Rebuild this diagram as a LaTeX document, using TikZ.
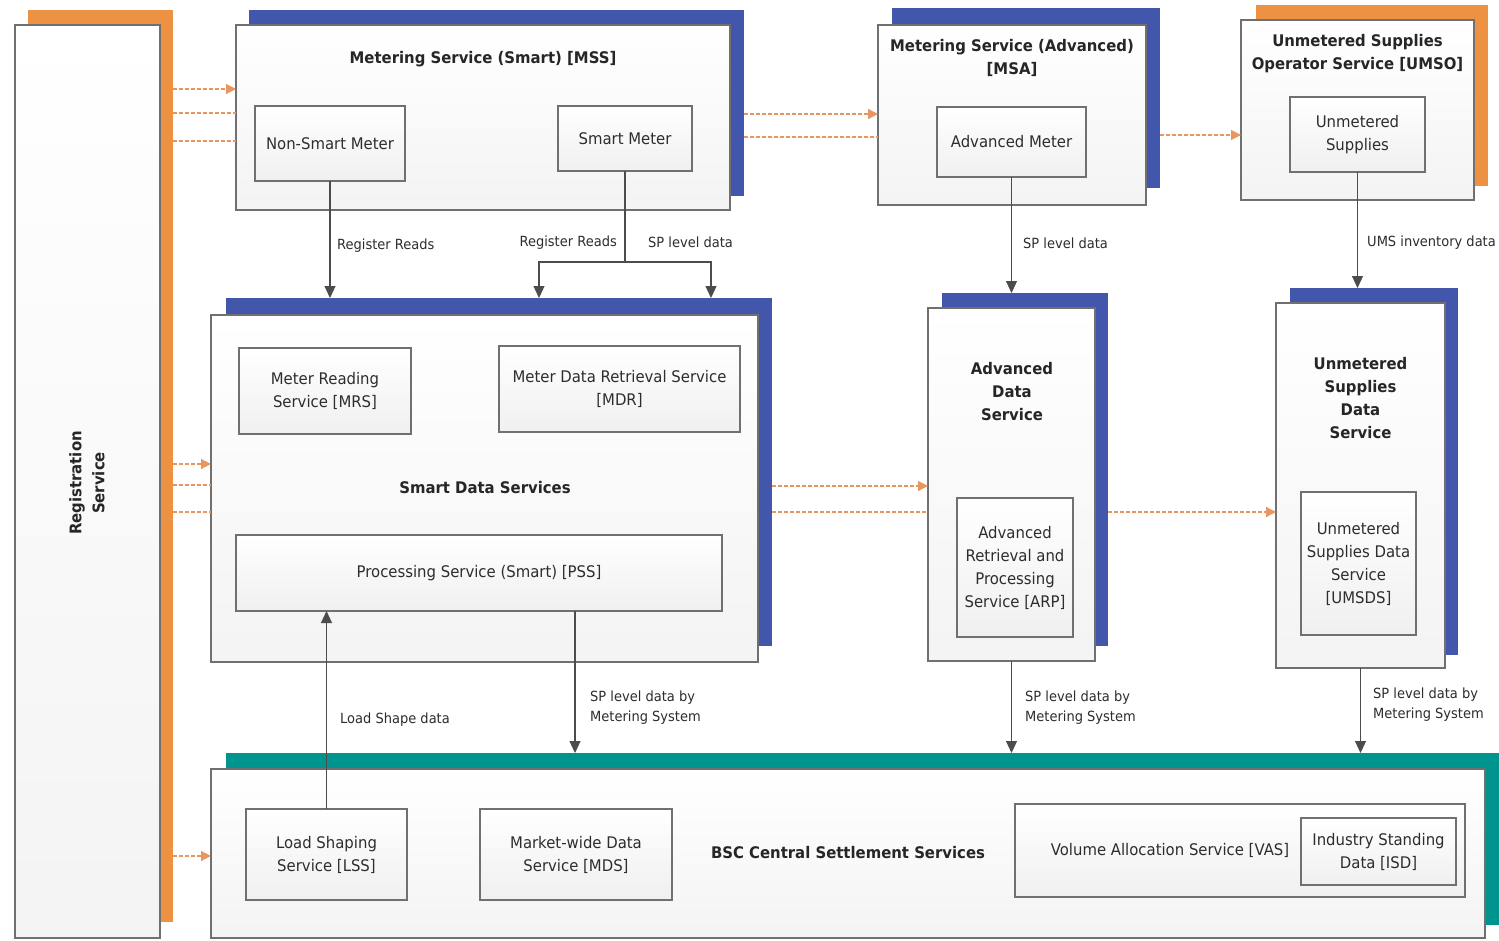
\documentclass[tikz,border=0pt]{standalone}
\usepackage{fontspec}
\setmainfont{DejaVu Sans}[FakeStretch=0.93]
\usetikzlibrary{arrows.meta}
\definecolor{blu}{RGB}{66,86,172}
\definecolor{org}{RGB}{236,146,66}
\definecolor{tea}{RGB}{0,148,143}
\definecolor{bord}{RGB}{112,112,112}
\definecolor{txt}{RGB}{45,45,45}
\definecolor{oline}{RGB}{232,150,95}
\tikzset{
 shad/.style={draw=none, inner sep=0pt, outer sep=0pt},
 outerbox/.style={draw=bord, line width=1.2pt, top color=white, bottom color=gray!9, inner sep=0pt, outer sep=0pt},
 inbox/.style={draw=bord, line width=1.2pt, top color=white, bottom color=gray!12, inner sep=0pt, outer sep=0pt, align=center, text=txt, font=\fontsize{16}{23}\selectfont},
 ttl/.style={font=\bfseries\fontsize{16}{23}\selectfont, align=center, text=black!85},
 lbl/.style={font=\fontsize{14}{20}\selectfont, align=left, text=txt, inner sep=0pt},
 arr/.style={draw=black!70, line width=1.1pt, -{Triangle[width=11pt,length=12pt]}},
 ln/.style={draw=black!70, line width=1.1pt},
 oarr/.style={draw=oline, line width=1.1pt, dash pattern=on 4pt off 2pt, -{Triangle[width=10pt,length=10pt]}},
 oln/.style={draw=oline, line width=1.1pt, dash pattern=on 4pt off 2pt},
}
\newcommand\mybox[7]{\node[#1, minimum width={(#5-#3)*1pt}, minimum height={(#6-#4)*1pt}] (#2) at ({(#3+#5)/2},{(#4+#6)/2}) {#7};}
\begin{document}
\begin{tikzpicture}[x=1pt,y=-1pt]
\useasboundingbox (0,0) rectangle (1499,940);
\fill[white] (0,0) rectangle (1499,940);
% Registration
\mybox{shad,fill=org}{REGs}{28}{10}{173}{922}{}
\mybox{outerbox}{REG}{15}{25}{160}{938}{}
\node[ttl, rotate=90] (REGt) at (87,483) {Registration\\Service};
% MSS
\mybox{shad,fill=blu}{MSSs}{249}{10}{744}{196}{}
\mybox{outerbox}{MSS}{236}{25}{730}{210}{}
\node[ttl] (MSSt) at (483,59) {Metering Service (Smart) [MSS]};
\mybox{inbox}{NSM}{255}{106}{405}{181}{Non-Smart Meter}
\mybox{inbox}{SM}{558}{106}{692}{171}{Smart Meter}
% MSA
\mybox{shad,fill=blu}{MSAs}{892}{8}{1160}{188}{}
\mybox{outerbox}{MSA}{878}{25}{1146}{205}{}
\node[ttl] (MSAt) at (1012,57.5) {Metering Service (Advanced)\\{}[MSA]};
\mybox{inbox}{AM}{937}{107}{1086}{177}{Advanced Meter}
% UMSO
\mybox{shad,fill=org}{UMSOs}{1256}{5}{1488}{186}{}
\mybox{outerbox}{UMSO}{1241}{20}{1474}{200}{}
\node[ttl] (UMSOt) at (1357.5,53.5) {Unmetered Supplies\\Operator Service [UMSO]};
\mybox{inbox}{US}{1290}{97}{1425}{172}{Unmetered\\Supplies}
% SDS
\mybox{shad,fill=blu}{SDSs}{226}{298}{772}{646}{}
\mybox{outerbox}{SDS}{211}{315}{758}{662}{}
\node[ttl] (SDSt) at (485,488) {Smart Data Services};
\mybox{inbox}{MRS}{239}{348}{411}{434}{Meter Reading\\Service [MRS]}
\mybox{inbox}{MDR}{499}{346}{740}{432}{Meter Data Retrieval Service\\{}[MDR]}
\mybox{inbox}{PSS}{236}{535}{722}{611}{Processing Service (Smart) [PSS]}
% ADS
\mybox{shad,fill=blu}{ADSs}{942}{293}{1108}{646}{}
\mybox{outerbox}{ADS}{928}{308}{1095}{661}{}
\node[ttl] (ADSt) at (1012,391.5) {Advanced\\Data\\Service};
\mybox{inbox}{ARP}{957}{498}{1073}{637}{Advanced\\Retrieval and\\Processing\\Service [ARP]}
% UDS
\mybox{shad,fill=blu}{UDSs}{1290}{288}{1458}{655}{}
\mybox{outerbox}{UDS}{1276}{303}{1445}{668}{}
\node[ttl] (UDSt) at (1360.5,398) {Unmetered\\Supplies\\Data\\Service};
\mybox{inbox}{UMSDS}{1301}{492}{1416}{635}{Unmetered\\Supplies Data\\Service\\{}[UMSDS]}
% BSC
\mybox{shad,fill=tea}{BSCs}{226}{753}{1499}{925}{}
\mybox{outerbox}{BSC}{211}{769}{1485}{938}{}
\node[ttl] (BSCt) at (848,853) {BSC Central Settlement Services};
\mybox{inbox}{LSS}{246}{809}{407}{900}{Load Shaping\\Service [LSS]}
\mybox{inbox}{MDS}{480}{809}{672}{900}{Market-wide Data\\Service [MDS]}
\mybox{inbox}{VAS}{1015}{804}{1465}{897}{}
\node[font=\fontsize{16}{23}\selectfont, text=txt] (VASt) at (1170,850) {Volume Allocation Service [VAS]};
\mybox{inbox}{ISD}{1301}{818}{1456}{885}{Industry Standing\\Data [ISD]}
% orange connectors
\draw[oarr] (REGs.east |- 0,89) -- (MSS.west |- 0,89);
\draw[oln] (REGs.east |- 0,113) -- (MSS.west |- 0,113);
\draw[oln] (REGs.east |- 0,141) -- (MSS.west |- 0,141);
\draw[oarr] (MSSs.east |- 0,114) -- (MSA.west |- 0,114);
\draw[oln] (MSSs.east |- 0,137) -- (MSA.west |- 0,137);
\draw[oarr] (MSAs.east |- 0,135) -- (UMSO.west |- 0,135);
\draw[oarr] (REGs.east |- 0,464) -- (SDS.west |- 0,464);
\draw[oln] (REGs.east |- 0,485) -- (SDS.west |- 0,485);
\draw[oln] (REGs.east |- 0,512) -- (SDS.west |- 0,512);
\draw[oarr] (SDSs.east |- 0,486) -- (ADS.west |- 0,486);
\draw[oln] (SDSs.east |- 0,512) -- (ADS.west |- 0,512);
\draw[oarr] (ADSs.east |- 0,512) -- (UDS.west |- 0,512);
\draw[oarr] (REGs.east |- 0,856) -- (BSC.west |- 0,856);
% gray connectors
\draw[arr] (NSM.south) -- (NSM.south |- SDSs.north);
\coordinate (SMj) at (625,262);
\coordinate (RRt) at (539,298);
\coordinate (SPt) at (711,298);
\draw[ln] (SM.south) -- (SMj);
\draw[arr] (SMj) -| (RRt);
\draw[arr] (SMj) -| (SPt);
\draw[arr] (AM.south) -- (AM.south |- ADSs.north);
\draw[arr] (US.south) -- (US.south |- UDSs.north);
\draw[arr] ([xshift=96pt]PSS.south) -- ([xshift=96pt]PSS.south |- BSCs.north);
\draw[arr] (LSS.north) -- (LSS.north |- PSS.south);
\draw[arr] (ADS.south) -- (ADS.south |- BSCs.north);
\draw[arr] (UDS.south) -- (UDS.south |- BSCs.north);
% labels
\node[lbl, anchor=west] (l1) at (337,246) {Register Reads};
\node[lbl, anchor=east] (l2) at (617,243) {Register Reads};
\node[lbl, anchor=west] (l3) at (648,242) {SP level data};
\node[lbl, anchor=west] (l4) at (1023,243) {SP level data};
\node[lbl, anchor=east] (l5) at (1496,243) {UMS inventory data};
\node[lbl, anchor=west] (l6) at (340,720) {Load Shape data};
\node[lbl, anchor=west] (l7) at (590,708) {SP level data by\\Metering System};
\node[lbl, anchor=west] (l8) at (1025,708) {SP level data by\\Metering System};
\node[lbl, anchor=west] (l9) at (1373,705) {SP level data by\\Metering System};
\end{tikzpicture}
\end{document}
